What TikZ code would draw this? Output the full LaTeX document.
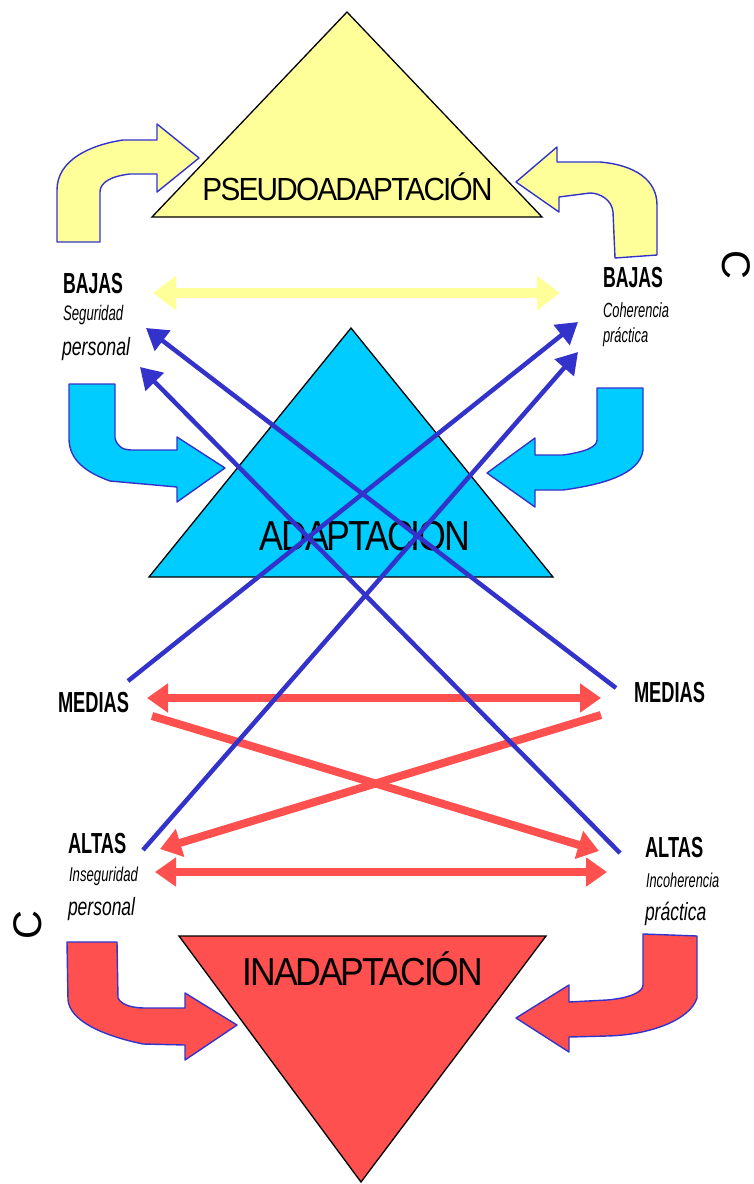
\documentclass[tikz,border=0pt]{standalone}
\usepackage{fontspec}
\setmainfont{Liberation Sans}
\newfontfamily\tightfont[LetterSpace=-6]{Liberation Sans}
\usetikzlibrary{arrows.meta}
\definecolor{pyellow}{HTML}{FFFF99}
\definecolor{pcyan}{HTML}{00CCFF}
\definecolor{pred}{HTML}{FF5050}
\definecolor{pblue}{HTML}{3333CC}
% condensed text: #1 horizontal scale, #2 font size, #3 text
\newcommand{\cond}[3]{\scalebox{#1}[1]{\fontsize{#2}{#2}\selectfont #3}}
\begin{document}
\begin{tikzpicture}[x=1pt,y=-1pt,
  tri/.style={draw=black, line width=1.3pt, line join=miter},
  bent/.style={draw=pblue, line width=1.4pt, line join=round},
  txt/.style={inner sep=0pt, outer sep=0pt, anchor=base west},
  title/.style={inner sep=0pt, outer sep=0pt, anchor=base},
  bluelink/.style={pblue, line width=4.5pt, -{Triangle[length=21pt,width=25pt]}},
  redlink/.style={pred, line width=8pt},
  redtip/.style={-{Triangle[length=21pt,width=28pt]}},
  redboth/.style={{Triangle[length=21pt,width=28pt]}-{Triangle[length=21pt,width=28pt]}},
  yellowlink/.style={pyellow, line width=10pt,
    {Triangle[length=23pt,width=33pt]}-{Triangle[length=23pt,width=33pt]}}]
\fill[white] (0,0) rectangle (753,1184);
\useasboundingbox (0,0) rectangle (753,1184);

% the three triangles
\filldraw[tri, fill=pyellow] (347,12) -- (542,217) -- (152,217) -- cycle;
\filldraw[tri, fill=pcyan] (351,328) -- (553,577) -- (149,577) -- cycle;
\filldraw[tri, fill=pred] (179,936) -- (546,936) -- (361,1182) -- cycle;

\node[title] (pseudo) at (347.5,200) {\cond{0.93}{32}{\tightfont PSEUDOADAPTACIÓN}};
\node[title] (adapt) at (365,550) {\cond{0.85}{42}{\tightfont ADAPTACION}};
\node[title] (inadapt) at (363,985) {\cond{0.91}{39}{\tightfont INADAPTACIÓN}};

% bent block arrows
\filldraw[bent, fill=pyellow] (57,242) -- (57,190) .. controls (57,160) and (90,145) .. (123,140)
  -- (157,140) -- (157,124) -- (199,158) -- (157,192) -- (157,174) -- (130,174)
  .. controls (112,176) and (100,182) .. (100,192) -- (100,242) -- cycle;
\filldraw[bent, fill=pyellow] (615,258) -- (613,212) .. controls (612,200) and (600,193) .. (590,193)
  -- (559,197) -- (559,212) -- (516,182) -- (557,147) -- (557,162) -- (600,162)
  .. controls (635,165) and (657,180) .. (657,205) -- (657,255) -- cycle;
\filldraw[bent, fill=pcyan] (69,384) -- (115,384) -- (115,438) .. controls (117,446) and (122,450) .. (132,450)
  -- (177,450) -- (177,437) -- (225,468) -- (177,502) -- (177,487) -- (110,481)
  .. controls (85,472) and (70,460) .. (69,440) -- cycle;
\filldraw[bent, fill=pcyan] (597,388) -- (643,388) -- (643,450) .. controls (640,475) and (600,485) .. (563,490)
  -- (535,490) -- (535,507) -- (487,473) -- (535,438) -- (535,455) -- (563,455)
  .. controls (585,452) and (597,447) .. (597,440) -- cycle;
\filldraw[bent, fill=pred] (67,942) -- (117,942) -- (118,998) .. controls (122,1006) and (135,1008) .. (145,1008)
  -- (185,1008) -- (185,993) -- (237,1025) -- (185,1060) -- (185,1045) -- (143,1044)
  .. controls (100,1035) and (70,1020) .. (68,1000) -- cycle;
\filldraw[bent, fill=pred] (643,934) -- (697,936) -- (697,998) .. controls (690,1020) and (650,1035) .. (607,1036)
  -- (569,1037) -- (569,1052) -- (516,1018) -- (569,985) -- (569,1002) -- (607,1000)
  .. controls (630,998) and (643,992) .. (643,985) -- cycle;

% labels
\node[txt] (bajasL) at (63,293) {\cond{0.61}{29}{\bfseries BAJAS}};
\node[txt] (segur) at (63,320) {\cond{0.63}{21}{\itshape Seguridad}};
\node[txt] (persU) at (62,355) {\cond{0.71}{25}{\itshape personal}};
\node[txt] (bajasR) at (603,287) {\cond{0.61}{29}{\bfseries BAJAS}};
\node[txt] (coher) at (603,317) {\cond{0.63}{20.5}{\itshape Coherencia}};
\node[txt] (pracU) at (603,342) {\cond{0.63}{20.5}{\itshape práctica}};
\node[txt] (mediasL) at (58,712) {\cond{0.63}{29}{\bfseries MEDIAS}};
\node[txt] (mediasR) at (634,702) {\cond{0.63}{29}{\bfseries MEDIAS}};
\node[txt] (altasL) at (68,853) {\cond{0.63}{29}{\bfseries ALTAS}};
\node[txt] (inseg) at (69,881) {\cond{0.66}{20}{\itshape Inseguridad}};
\node[txt] (persL) at (68,915) {\cond{0.70}{25}{\itshape personal}};
\node[txt] (altasR) at (645,857) {\cond{0.63}{29}{\bfseries ALTAS}};
\node[txt] (incoh) at (646,887) {\cond{0.64}{20}{\itshape Incoherencia}};
\node[txt] (pracL) at (645,920) {\cond{0.70}{25}{\itshape práctica}};

\node[inner sep=0pt, rotate=-90] (cR) at (736,265) {\fontsize{40}{40}\selectfont C};
\node[inner sep=0pt, rotate=90] (cL) at (28,925) {\fontsize{40}{40}\selectfont C};

% connector end points
\coordinate (yL) at (153,293);   \coordinate (yR) at (560,293);
\coordinate (mLr) at (147,698);  \coordinate (mRr) at (601,698);
\coordinate (aLr) at (155,872);  \coordinate (aRr) at (607,872);
\coordinate (mLs) at (152,716);  \coordinate (aRt) at (599,851);
\coordinate (mRs) at (601,715);  \coordinate (aLt) at (160,849);
\coordinate (mLb) at (128,681);  \coordinate (bRt1) at (578,322);
\coordinate (aLb) at (143,850);  \coordinate (bRt2) at (578,352);
\coordinate (mRb) at (616,688);  \coordinate (bLt1) at (146,328);
\coordinate (aRb) at (620,853);  \coordinate (bLt2) at (140,367);

% connectors
\draw[yellowlink] (yL) -- (yR);
\draw[redlink, redboth] (mLr) -- (mRr);
\draw[redlink, redboth] (aLr) -- (aRr);
\draw[redlink, redtip] (mLs) -- (aRt);
\draw[redlink, redtip] (mRs) -- (aLt);
\draw[bluelink] (mLb) -- (bRt1);
\draw[bluelink] (aLb) -- (bRt2);
\draw[bluelink] (mRb) -- (bLt1);
\draw[bluelink] (aRb) -- (bLt2);
\end{tikzpicture}
\end{document}
